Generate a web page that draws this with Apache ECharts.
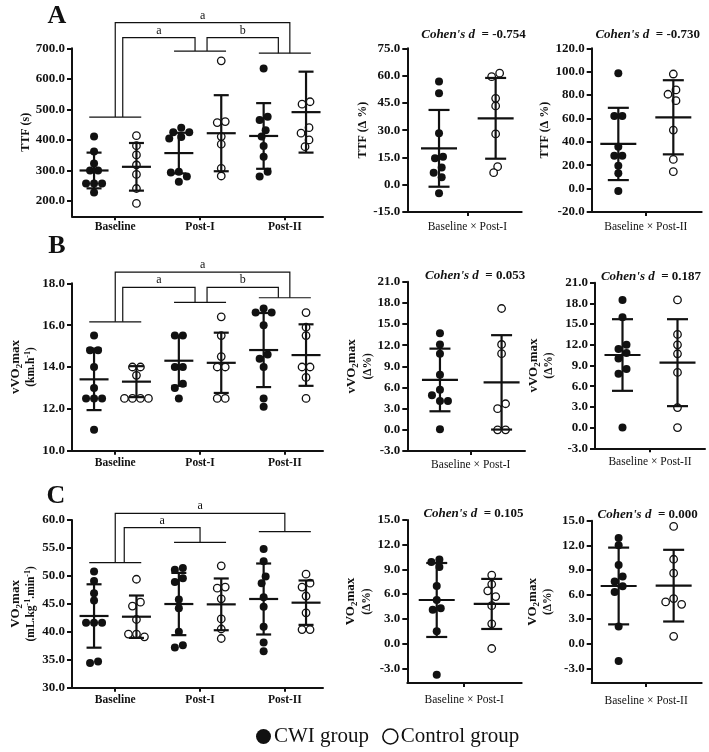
<!DOCTYPE html>
<html lang="en">
<head>
<meta charset="UTF-8">
<title>CWI vs Control</title>
<script src="https://cdn.jsdelivr.net/npm/echarts@6.0.0/dist/echarts.min.js"></script>
<style>
  html, body { margin: 0; padding: 0; background: #fff; }
  #main { width: 709px; height: 752px; }
</style>
</head>
<body>
<div id="main"></div>
<script>
// ---- labels ----
const timepoints = ['Baseline', 'Post-I', 'Post-II'];
const deltaNames = ['Baseline × Post-I', 'Baseline × Post-II'];
const cohenD = ['-0.754', '-0.730', '0.053', '0.187', '0.105', '0.000'];

// ---- A: time to fatigue (s), per time point ----
const ttfCwi = [[411, 362, 323, 300, 300, 257, 257, 257, 228],
                [440, 425, 425, 410, 405, 296, 293, 280, 263],
                [634, 476, 465, 432, 411, 380, 345, 296, 280]];
const ttfCtl = [[414, 381, 351, 318, 287, 241, 192],
                [659, 460, 457, 411, 386, 307, 282],
                [525, 517, 440, 422, 400, 378]];
const ttfMean = [300, 312, 357, 422, 413, 491];
const ttfSd = [58.5, 78, 66.5, 124.5, 107.5, 132.5];
// A: TTF change (%)
const ttfD1Cwi = [56.7, 50.3, 28.3, 15.4, 14.5, 9.4, 6.6, 4.1, -4.7];
const ttfD1Ctl = [61.3, 59.4, 47.5, 43.3, 27.9, 9.9, 6.6];
const ttfD1Mean = [20.0, 36.5], ttfD1Sd = [21.1, 22.2];
const ttfD2Cwi = [98.6, 62.1, 62.1, 35.9, 28.2, 28.2, 19.6, 13.1, -2.0];
const ttfD2Ctl = [98.0, 84.4, 80.7, 75.2, 50.1, 25.0, 14.5];
const ttfD2Mean = [38.2, 61.0], ttfD2Sd = [30.9, 31.7];

// ---- B: vVO2max (km/h) ----
const vCwi = [[15.5, 14.8, 14.8, 14.0, 13.0, 12.5, 12.5, 12.5, 11.0],
              [15.5, 15.5, 14.0, 14.0, 13.2, 13.0, 12.5],
              [16.8, 16.6, 16.6, 16.0, 14.6, 14.4, 14.0, 12.5, 12.1]];
const vCtl = [[14.0, 14.0, 13.6, 12.5, 12.5, 12.5, 12.5],
              [16.4, 15.5, 14.5, 14.0, 14.0, 12.5, 12.5],
              [16.6, 15.9, 15.5, 14.0, 14.0, 13.5, 12.5]];
const vMean = [13.41, 13.3, 14.3, 14.2, 14.81, 14.57];
const vSd = [1.47, 0.74, 1.2, 1.44, 1.77, 1.47];
const vD1Cwi = [13.7, 12.1, 10.8, 7.8, 5.7, 4.9, 4.1, 4.1, 0.1];
const vD1Ctl = [17.2, 12.1, 10.8, 3.7, 3.0, 0.0, 0.0];
const vD1Mean = [7.07, 6.73], vD1Sd = [4.44, 6.69];
const vD2Cwi = [18.5, 16.0, 12.0, 11.4, 10.8, 10.0, 8.5, 7.8, 0.0];
const vD2Ctl = [18.5, 13.5, 12.0, 10.7, 8.0, 2.9, 0.0];
const vD2Mean = [10.52, 9.41], vD2Sd = [5.19, 6.3];

// ---- C: VO2max (mL/kg/min) ----
const oCwi = [[50.8, 49.1, 46.9, 45.6, 41.6, 41.6, 41.6, 34.7, 34.4],
              [51.4, 51.1, 49.6, 48.9, 45.8, 44.2, 40.0, 37.6, 37.2],
              [54.8, 52.6, 49.9, 48.7, 46.2, 44.5, 40.9, 38.1, 36.5]];
const oCtl = [[49.4, 45.3, 44.6, 42.2, 39.6, 39.6, 39.1],
              [51.8, 48.0, 47.8, 45.9, 42.3, 40.5, 38.8],
              [50.3, 48.7, 48.0, 46.4, 43.4, 40.4, 40.4]];
const oMean = [42.83, 42.7, 44.97, 44.91, 45.87, 45.21];
const oSd = [5.67, 3.79, 5.57, 4.63, 6.35, 3.97];
const oD1Cwi = [10.2, 9.9, 9.3, 7.0, 5.3, 4.3, 4.1, 1.5, -3.8];
const oD1Ctl = [8.3, 7.2, 6.4, 5.7, 4.6, 2.4, -0.6];
const oD1Mean = [5.29, 4.81], oD1Sd = [4.49, 3.04];
const oD2Cwi = [12.9, 12.0, 9.6, 8.2, 7.6, 7.0, 6.3, 2.1, -2.1];
const oD2Ctl = [14.3, 10.3, 8.6, 5.5, 5.1, 4.8, 0.9];
const oD2Mean = [7.04, 7.08], oD2Sd = [4.68, 4.37];

// ---- tick values ----
const ttfTicks = [200, 300, 400, 500, 600, 700];
const ttfD1Ticks = [-15, 0, 15, 30, 45, 60, 75];
const ttfD2Ticks = [-20, 0, 20, 40, 60, 80, 100, 120];
const vTicks = [10, 12, 14, 16, 18];
const vDTicks = [-3, 0, 3, 6, 9, 12, 15, 18, 21];
const oTicks = [30, 35, 40, 45, 50, 55, 60];
const oDTicks = [-3, 0, 3, 6, 9, 12, 15];

// ---- significance brackets (levels in data units) ----
const ttfSig = { lines: [475, 691, 684], links: [
  { from: 0, to: 2, level: 784, text: 'a', legs: [0, 5] },
  { from: 0, to: 1, level: 735, text: 'a', legs: [7.5, -5] },
  { from: 1, to: 2, level: 735, text: 'b', legs: [7, -6.5] }] };
const vSig = { lines: [16.16, 17.09, 17.31], links: [
  { from: 0, to: 2, level: 18.53, text: 'a', legs: [0, 5] },
  { from: 0, to: 1, level: 17.81, text: 'a', legs: [7.5, -5] },
  { from: 1, to: 2, level: 17.81, text: 'b', legs: [7, -6.5] }] };
const oSig = { lines: [52.36, 56.01, 57.91], links: [
  { from: 0, to: 2, level: 61.2, text: 'a', legs: [0, 0] },
  { from: 0, to: 1, level: 58.62, text: 'a', legs: [9, 0] }] };

const SERIF = '"Liberation Serif", "Times New Roman", serif';
const INK = '#111';
const DOT = 8;

function sub(main, s, rest) { return '{a|' + main + '}{s|' + s + '}{a|' + rest + '}'; }
const nameRich = {
  a: { fontSize: 13, fontWeight: 'bold', fontFamily: SERIF, color: INK, lineHeight: 17, verticalAlign: 'middle' },
  s: { fontSize: 9, fontWeight: 'bold', fontFamily: SERIF, color: INK, lineHeight: 17, verticalAlign: 'bottom' },
  b: { fontSize: 11.5, fontWeight: 'bold', fontFamily: SERIF, color: INK, lineHeight: 15, verticalAlign: 'middle' },
  u: { fontSize: 8, fontWeight: 'bold', fontFamily: SERIF, color: INK, lineHeight: 15, verticalAlign: 'top' },
  c: { fontSize: 12, fontWeight: 'bold', fontFamily: SERIF, color: INK }
};

const panels = [
  { kind: 'time', box: [72, 48.3, 251, 168], y: [150, 700], ticks: ttfTicks, x: [0.48, 6.4],
    cwi: ttfCwi, ctl: ttfCtl, mean: ttfMean, sd: ttfSd, sig: ttfSig,
    name: '{c|TTF (s)}', nameGap: 38, xMargin: 5 },
  { kind: 'delta', box: [407.3, 48.3, 114.4, 163.7], y: [-15, 75], ticks: ttfD1Ticks, x: [0.44, 2.46],
    cwi: [ttfD1Cwi], ctl: [ttfD1Ctl], mean: ttfD1Mean, sd: ttfD1Sd, d: 0,
    name: '{c|TTF (Δ %)}', nameGap: 31, xMargin: 9, xName: deltaNames[0] },
  { kind: 'delta', box: [591.7, 48.3, 110, 163.7], y: [-20, 120], ticks: ttfD2Ticks, x: [0.516, 2.516],
    cwi: [ttfD2Cwi], ctl: [ttfD2Ctl], mean: ttfD2Mean, sd: ttfD2Sd, d: 1,
    name: '{c|TTF (Δ %)}', nameGap: 41, xMargin: 9, xName: deltaNames[1] },
  { kind: 'time', box: [72, 283.3, 251, 167.4], y: [10, 18], ticks: vTicks, x: [0.48, 6.4],
    cwi: vCwi, ctl: vCtl, mean: vMean, sd: vSd, sig: vSig,
    name: sub('vVO', '2', 'max') + '\n{b|(km.h}{u|-1}{b|)}', nameGap: 33, xMargin: 6 },
  { kind: 'delta', box: [407.3, 281.7, 117.7, 169.3], y: [-3, 21], ticks: vDTicks, x: [0.47, 2.38],
    cwi: [vD1Cwi], ctl: [vD1Ctl], mean: vD1Mean, sd: vD1Sd, d: 2,
    name: sub('vVO', '2', 'max') + '\n{b|(Δ%)}', nameGap: 32, xMargin: 8, xName: deltaNames[0] },
  { kind: 'delta', box: [595, 282.7, 110, 165.6], y: [-3, 21], ticks: vDTicks, x: [0.5, 2.5],
    cwi: [vD2Cwi], ctl: [vD2Ctl], mean: vD2Mean, sd: vD2Sd, d: 3,
    name: sub('vVO', '2', 'max') + '\n{b|(Δ%)}', nameGap: 38, xMargin: 8, xName: deltaNames[1] },
  { kind: 'time', box: [72, 520, 251, 167.7], y: [30, 60], ticks: oTicks, x: [0.48, 6.4],
    cwi: oCwi, ctl: oCtl, mean: oMean, sd: oSd, sig: oSig,
    name: sub('VO', '2', 'max') + '\n{b|(mL.kg}{u|-1}{b|.min}{u|-1}{b|)}', nameGap: 33, xMargin: 6 },
  { kind: 'delta', box: [407.3, 520, 114.4, 163.1], y: [-4.8, 15], ticks: oDTicks, x: [0.465, 2.545],
    cwi: [oD1Cwi], ctl: [oD1Ctl], mean: oD1Mean, sd: oD1Sd, d: 4,
    name: sub('VO', '2', 'max') + '\n{b|(Δ%)}', nameGap: 33, xMargin: 11, xName: deltaNames[0] },
  { kind: 'delta', box: [591.7, 520.7, 110, 162.4], y: [-4.8, 15], ticks: oDTicks, x: [0.51, 2.51],
    cwi: [oD2Cwi], ctl: [oD2Ctl], mean: oD2Mean, sd: oD2Sd, d: 5,
    name: sub('VO', '2', 'max') + '\n{b|(Δ%)}', nameGap: 36, xMargin: 12, xName: deltaNames[1] }
];

// simple beeswarm: spread points that would overlap, then centre each cluster
function swarm(vals, pxPerUnit) {
  const off = vals.map(() => 0);
  const placed = [];
  const order = vals.map((v, i) => i).sort((a, b) => vals[b] - vals[a]);
  order.forEach(i => {
    const py = vals[i] * pxPerUnit;
    for (let k = 0; k < 60; k++) {
      const c = k === 0 ? 0 : (k % 2 ? -1 : 1) * Math.ceil(k / 2) * DOT * 0.5;
      if (placed.every(q => Math.hypot(q.x - c, q.y - py) >= DOT * 0.9)) {
        off[i] = c;
        placed.push({ x: c, y: py, i: i });
        break;
      }
    }
  });
  let start = 0;
  for (let k = 1; k <= placed.length; k++) {
    if (k === placed.length || placed[k - 1].y - placed[k].y >= DOT) {
      const grp = placed.slice(start, k);
      const m = grp.reduce((s, q) => s + q.x, 0) / grp.length;
      grp.forEach(q => { off[q.i] = q.x - m; });
      start = k;
    }
  }
  return off;
}

const grids = [], xAxes = [], yAxes = [], series = [], graphics = [];

panels.forEach((p, i) => {
  const [gl, gt, gw, gh] = p.box;
  const pxY = gh / (p.y[1] - p.y[0]);
  const pxX = gw / (p.x[1] - p.x[0]);
  const isTime = p.kind === 'time';
  const xTicks = isTime ? [1.5, 3.5, 5.5] : [1.5];
  const xNames = isTime ? timepoints : [p.xName];
  const meanHalf = isTime ? 14.5 : 18;
  const capHalf = isTime ? 7.5 : 10.5;

  grids.push({ left: gl, top: gt, width: gw, height: gh });
  xAxes.push({
    type: 'value', gridIndex: i, min: p.x[0], max: p.x[1],
    axisLine: { onZero: false, lineStyle: { color: INK, width: 2 } },
    axisTick: { customValues: xTicks, length: 4, lineStyle: { color: INK, width: 2 } },
    axisLabel: {
      customValues: xTicks, margin: p.xMargin,
      formatter: v => xNames[xTicks.findIndex(t => Math.abs(t - v) < 1e-6)] || '',
      fontFamily: SERIF, fontSize: 11.5, fontWeight: isTime ? 'bold' : 'normal', color: INK
    },
    splitLine: { show: false }
  });
  yAxes.push({
    type: 'value', gridIndex: i, min: p.y[0], max: p.y[1],
    axisLine: { show: true, onZero: false, lineStyle: { color: INK, width: 2 } },
    axisTick: { show: true, customValues: p.ticks, length: 5, lineStyle: { color: INK, width: 2 } },
    axisLabel: {
      customValues: p.ticks, margin: 7, formatter: v => Number(v).toFixed(1),
      fontFamily: SERIF, fontSize: 13, fontWeight: 'bold', color: INK
    },
    splitLine: { show: false },
    name: p.name, nameLocation: 'middle', nameGap: p.nameGap, nameRotate: 90,
    nameTextStyle: { rich: nameRich, align: 'center' }
  });

  const cwiData = [], ctlData = [], bars = [];
  p.cwi.forEach((vals, g) => {
    const pos = isTime ? 2 * g + 1 : 1;
    const off = swarm(vals, pxY);
    vals.forEach((v, k) => cwiData.push([pos + off[k] / pxX, v]));
  });
  p.ctl.forEach((vals, g) => {
    const pos = isTime ? 2 * g + 2 : 2;
    const off = swarm(vals, pxY);
    vals.forEach((v, k) => ctlData.push([pos + off[k] / pxX, v]));
  });
  p.mean.forEach((m, k) => bars.push([k + 1, m, p.sd[k]]));

  series.push({
    type: 'scatter', name: 'CWI group', xAxisIndex: i, yAxisIndex: i, data: cwiData,
    symbol: 'circle', symbolSize: DOT, itemStyle: { color: INK, opacity: 1 }, z: 2, silent: true
  });
  series.push({
    type: 'scatter', name: 'Control group', xAxisIndex: i, yAxisIndex: i, data: ctlData,
    symbol: 'circle', symbolSize: DOT - 0.5, itemStyle: { color: '#fff', borderColor: INK, borderWidth: 1.3, opacity: 1 },
    z: 2, silent: true
  });
  series.push({
    type: 'custom', xAxisIndex: i, yAxisIndex: i, data: bars, z: 3, silent: true, clip: false,
    renderItem: (params, api) => {
      const x = api.value(0), m = api.value(1), s = api.value(2);
      const c = api.coord([x, m]), t = api.coord([x, m + s]), b = api.coord([x, m - s]);
      const st = { stroke: INK, lineWidth: 2.2, fill: 'none' };
      return { type: 'group', children: [
        { type: 'line', shape: { x1: c[0] - meanHalf, y1: c[1], x2: c[0] + meanHalf, y2: c[1] }, style: st },
        { type: 'line', shape: { x1: c[0], y1: t[1], x2: c[0], y2: b[1] }, style: st },
        { type: 'line', shape: { x1: c[0] - capHalf, y1: t[1], x2: c[0] + capHalf, y2: t[1] }, style: st },
        { type: 'line', shape: { x1: c[0] - capHalf, y1: b[1], x2: c[0] + capHalf, y2: b[1] }, style: st }
      ] };
    }
  });

  if (p.sig) {
    const sig = p.sig;
    series.push({
      type: 'custom', xAxisIndex: i, yAxisIndex: i, data: [[3.5, p.y[0]]], z: 4, silent: true, clip: false,
      renderItem: (params, api) => {
        const st = { stroke: INK, lineWidth: 1.2, fill: 'none' };
        const kids = [];
        sig.lines.forEach((lv, g) => {
          const c = api.coord([2 * g + 1.5, lv]);
          kids.push({ type: 'line', shape: { x1: c[0] - 26, y1: c[1], x2: c[0] + 26, y2: c[1] }, style: st });
        });
        sig.links.forEach(l => {
          const a = api.coord([2 * l.from + 1.5, sig.lines[l.from]]);
          const b = api.coord([2 * l.to + 1.5, sig.lines[l.to]]);
          const top = api.coord([2, l.level])[1];
          const xa = a[0] + l.legs[0], xb = b[0] + l.legs[1];
          kids.push({ type: 'polyline', shape: { points: [[xa, a[1]], [xa, top], [xb, top], [xb, b[1]]] }, style: st });
          kids.push({ type: 'text', style: {
            text: l.text, x: (xa + xb) / 2, y: top - 1,
            align: 'center', verticalAlign: 'bottom', textAlign: 'center', textVerticalAlign: 'bottom',
            fontFamily: SERIF, fontSize: 12, fill: INK
          } });
        });
        return { type: 'group', children: kids };
      }
    });
  }

  if (!isTime) {
    graphics.push({
      type: 'text', x: gl + gw / 2 + (p.d % 2 ? 1 : 9), y: gt - (p.d < 2 ? 14 : 6),
      style: {
        text: "{i|Cohen's d}{n|  = " + cohenD[p.d] + '}',
        align: 'center', verticalAlign: 'middle', textAlign: 'center', textVerticalAlign: 'middle',
        rich: {
          i: { fontFamily: SERIF, fontSize: 13, fontWeight: 'bold', fontStyle: 'italic', fill: INK, color: INK },
          n: { fontFamily: SERIF, fontSize: 13, fontWeight: 'bold', fill: INK, color: INK }
        }
      }
    });
  }
});

[['A', 57, 16], ['B', 57, 246], ['C', 56, 496]].forEach(([t, x, y]) => {
  graphics.push({
    type: 'text', x: x, y: y,
    style: { text: t, align: 'center', verticalAlign: 'middle', textAlign: 'center', textVerticalAlign: 'middle',
             fontFamily: SERIF, fontSize: 26, fontWeight: 'bold', fill: INK }
  });
});

const chart = echarts.init(document.getElementById('main'), null, { renderer: 'canvas' });
chart.setOption({
  animation: false,
  backgroundColor: '#fff',
  grid: grids,
  xAxis: xAxes,
  yAxis: yAxes,
  series: series,
  graphic: graphics,
  legend: {
    left: 251, top: 721, selectedMode: false, icon: 'circle',
    itemWidth: 15, itemHeight: 15, itemGap: 13,
    textStyle: { fontFamily: SERIF, fontSize: 21, color: INK, padding: [0, 0, 0, -2] },
    data: [
      { name: 'CWI group', itemStyle: { color: INK } },
      { name: 'Control group', itemStyle: { color: '#fff', borderColor: INK, borderWidth: 1.6 } }
    ]
  }
});
</script>
</body>
</html>
